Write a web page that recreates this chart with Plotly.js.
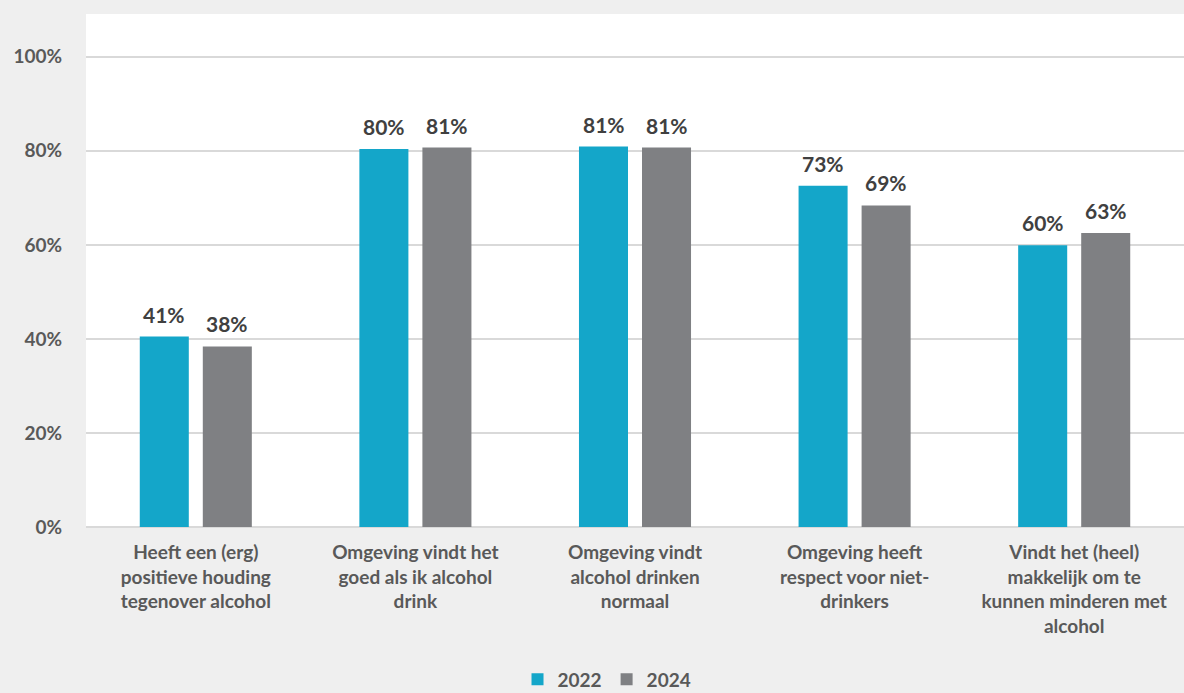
<!DOCTYPE html>
<html>
<head>
<meta charset="utf-8">
<script src="https://cdn.plot.ly/plotly-3.0.1.min.js"></script>
<style>
html,body{margin:0;padding:0;background:#efefef;}
#chart{width:1184px;height:693px;}
</style>
</head>
<body>
<div id="chart"></div>
<script>
const categories = [
  "Heeft een (erg)<br>positieve houding<br>tegenover alcohol",
  "Omgeving vindt het<br>goed als ik alcohol<br>drink",
  "Omgeving vindt<br>alcohol drinken<br>normaal",
  "Omgeving heeft<br>respect voor niet-<br>drinkers",
  "Vindt het (heel)<br>makkelijk om te<br>kunnen minderen met<br>alcohol"
];
const values2022 = [40.5, 80.4, 80.9, 72.6, 59.9];
const values2024 = [38.4, 80.7, 80.7, 68.4, 62.5];
const labels2022 = ["41%", "80%", "81%", "73%", "60%"];
const labels2024 = ["38%", "81%", "81%", "69%", "63%"];
const seriesNames = ["2022", "2024"];
const tickVals = [0, 20, 40, 60, 80, 100];
const tickText = ["0%", "20%", "40%", "60%", "80%", "100%"];

const colTeal = "#14a6c9";
const colGray = "#7f8083";
const fontFam = "Lato, 'Open Sans', sans-serif";

const traces = [
  {type: "bar", name: seriesNames[0], x: categories, y: values2022,
   marker: {color: colTeal}, hoverinfo: "skip"},
  {type: "bar", name: seriesNames[1], x: categories, y: values2024,
   marker: {color: colGray}, hoverinfo: "skip"}
];

const annotations = [];
categories.forEach((c, i) => {
  annotations.push({x: c, y: values2022[i], xref: "x", yref: "y", text: labels2022[i],
    showarrow: false, xshift: -31.5, yshift: 8, yanchor: "bottom",
    font: {family: fontFam, size: 21, color: "#404040", weight: 700}});
  annotations.push({x: c, y: values2024[i], xref: "x", yref: "y", text: labels2024[i],
    showarrow: false, xshift: 31.5, yshift: 8, yanchor: "bottom",
    font: {family: fontFam, size: 21, color: "#404040", weight: 700}});
});

const layout = {
  width: 1184, height: 693,
  paper_bgcolor: "#efefef",
  plot_bgcolor: "#ffffff",
  margin: {l: 86, r: 0, t: 14, b: 166, autoexpand: false},
  barmode: "group",
  bargap: 0.426,
  bargroupgap: 0.222,
  showlegend: true,
  legend: {orientation: "h", x: 0.393, xanchor: "left", y: -0.26, yanchor: "top",
    font: {family: fontFam, size: 19, color: "#595959", weight: 700},
    itemwidth: 30, bgcolor: "rgba(0,0,0,0)", traceorder: "normal"},
  xaxis: {
    showgrid: false, zeroline: false, showline: false,
    tickfont: {family: fontFam, size: 19, color: "#595959", weight: 700},
    ticks: "outside", ticklen: 8, tickcolor: "rgba(0,0,0,0)",
    automargin: false, fixedrange: true
  },
  yaxis: {
    range: [0, 109.1],
    tickvals: tickVals, ticktext: tickText,
    showgrid: true, gridcolor: "#d9d9d9", gridwidth: 2,
    zeroline: true, zerolinecolor: "#d9d9d9", zerolinewidth: 2,
    showline: false,
    tickfont: {family: fontFam, size: 19, color: "#595959", weight: 700},
    ticks: "outside", ticklen: 19, tickcolor: "rgba(0,0,0,0)",
    automargin: false, fixedrange: true
  },
  annotations: annotations
};

Plotly.newPlot("chart", traces, layout, {displayModeBar: false, staticPlot: true});
</script>
</body>
</html>
